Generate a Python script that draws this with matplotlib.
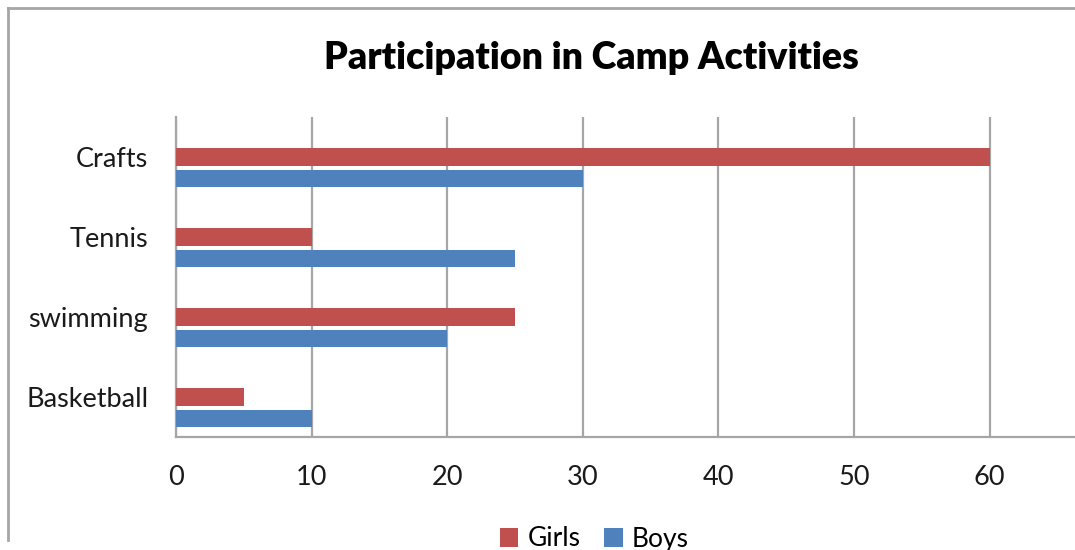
import numpy as np
import matplotlib
matplotlib.use("Agg")
import matplotlib.pyplot as plt
from matplotlib.lines import Line2D

activities = ["Crafts", "Tennis", "swimming", "Basketball"]
girls = [60, 10, 25, 5]
boys = [30, 25, 20, 10]
xticks = [0, 10, 20, 30, 40, 50, 60]

red = "#C0504D"
blue = "#4F81BD"
grid_gray = "#a6a6a6"

plt.rcParams['font.family'] = ['Lato', 'DejaVu Sans']

fig = plt.figure(figsize=(10.75, 5.5), dpi=100)
ax = fig.add_axes([0.1637, 0.2055, 0.8363, 0.5818])

y = np.arange(len(activities))
h = 0.215
ax.barh(y, girls, height=h, color=red, label="Girls", zorder=3)
ax.barh(y + 0.265, boys, height=h, color=blue, label="Boys", zorder=3)

ax.set_ylim(3.5, -0.5)
ax.set_xlim(0, 66.3)
ax.set_yticks(y)
ax.set_yticklabels(activities, fontsize=19.5, color="#1a1a1a")
ax.set_xticks(xticks)
ax.set_xticklabels([str(t) for t in xticks], fontsize=19.5, color="#1a1a1a")
ax.tick_params(axis="both", length=0)
ax.tick_params(axis="y", pad=20)
ax.tick_params(axis="x", pad=20)

ax.grid(axis="x", color=grid_gray, linewidth=1.6, zorder=0)
for s in ["top", "right"]:
    ax.spines[s].set_visible(False)
for s in ["left", "bottom"]:
    ax.spines[s].set_color(grid_gray)
    ax.spines[s].set_linewidth(1.6)

fig.text(0.55, 0.895, "Participation in Camp Activities", ha="center", va="center",
         fontsize=27, fontweight="heavy", color="black")

# outer chart border (top and left visible)
fig.add_artist(Line2D([8 / 1075, 1], [1 - 8 / 550, 1 - 8 / 550], color="#a6a6a6", linewidth=2))
fig.add_artist(Line2D([8 / 1075, 8 / 1075], [1 - 8 / 550, 1 - 540 / 550], color="#a6a6a6", linewidth=2))

ax.legend(loc="center", bbox_to_anchor=(0.553, 0.02), bbox_transform=fig.transFigure,
          ncol=2, frameon=False, fontsize=19, handlelength=0.7, handleheight=0.7,
          handletextpad=0.35, columnspacing=0.9)

fig.savefig("out.png", dpi=100)
